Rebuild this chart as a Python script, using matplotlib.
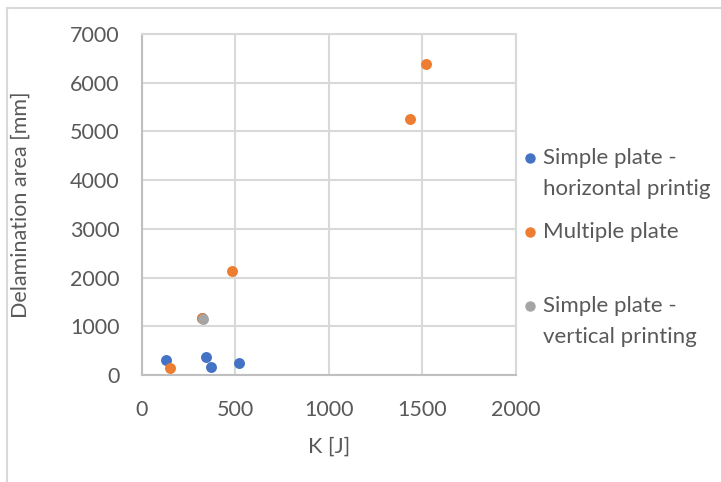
import matplotlib.pyplot as plt
from matplotlib.lines import Line2D

# data
horiz_k = [131, 344, 371, 521, 320]
horiz_area = [306, 374, 163, 245, 1160]
multi_k = [149, 325, 484, 1433, 1521]
multi_area = [143, 1170, 2130, 5251, 6382]
vert_k = [330]
vert_area = [1150]

x_ticks = [0, 500, 1000, 1500, 2000]
y_ticks = [0, 1000, 2000, 3000, 4000, 5000, 6000, 7000]

BLUE = "#4472C4"
ORANGE = "#ED7D31"
GREY = "#A5A5A5"
TXT = "#595959"
GRID = "#D9D9D9"

plt.rcParams['font.family'] = ['Lato', 'DejaVu Sans']

fig = plt.figure(figsize=(7.21, 4.82), dpi=100)
ax = fig.add_axes([0.1965, 0.222, 0.519, 0.7075])

ax.scatter(horiz_k, horiz_area, s=62, color=BLUE, zorder=3, linewidths=0)
ax.scatter(multi_k, multi_area, s=62, color=ORANGE, zorder=4, linewidths=0)
ax.scatter(vert_k, vert_area, s=62, color=GREY, zorder=5, linewidths=0)

ax.set_xlim(0, 2000)
ax.set_ylim(0, 7000)
ax.set_xticks(x_ticks)
ax.set_yticks(y_ticks)
ax.grid(True, color=GRID, linewidth=1.5)
ax.set_axisbelow(True)
for side in ["top", "right"]:
    ax.spines[side].set_color(GRID)
    ax.spines[side].set_linewidth(1.5)
for side in ["left", "bottom"]:
    ax.spines[side].set_color("#BFBFBF")
    ax.spines[side].set_linewidth(1.5)
ax.tick_params(length=0, colors=TXT, labelsize=15.5)
ax.tick_params(axis="x", pad=18)
ax.tick_params(axis="y", pad=16)

ax.set_xlabel("K [J]", color=TXT, fontsize=15.5, labelpad=12)
ax.set_ylabel("Delamination area [mm]", color=TXT, fontsize=15.5, labelpad=28)

# legend drawn by hand to keep Excel's uneven spacing
legend_items = [
    (BLUE, ["Simple plate -", "horizontal printig"], 158),
    (ORANGE, ["Multiple plate"], 232),
    (GREY, ["Simple plate -", "vertical printing"], 306),
]
for color, lines, ypix in legend_items:
    fig.add_artist(Line2D([530 / 721], [1 - ypix / 482], marker="o", markersize=6.5,
                          color=color, linestyle="none"))
    for i, line in enumerate(lines):
        fig.text(543 / 721, 1 - (ypix + i * 31) / 482, line, color=TXT,
                 fontsize=16, va="center", ha="left")

# outer chart frame
fig.add_artist(Line2D([7 / 721, 1], [1 - 8 / 482, 1 - 8 / 482], color=GRID, linewidth=1.5))
fig.add_artist(Line2D([7 / 721, 7 / 721], [0, 1 - 8 / 482], color=GRID, linewidth=1.5))

fig.savefig("out.png", dpi=100)
